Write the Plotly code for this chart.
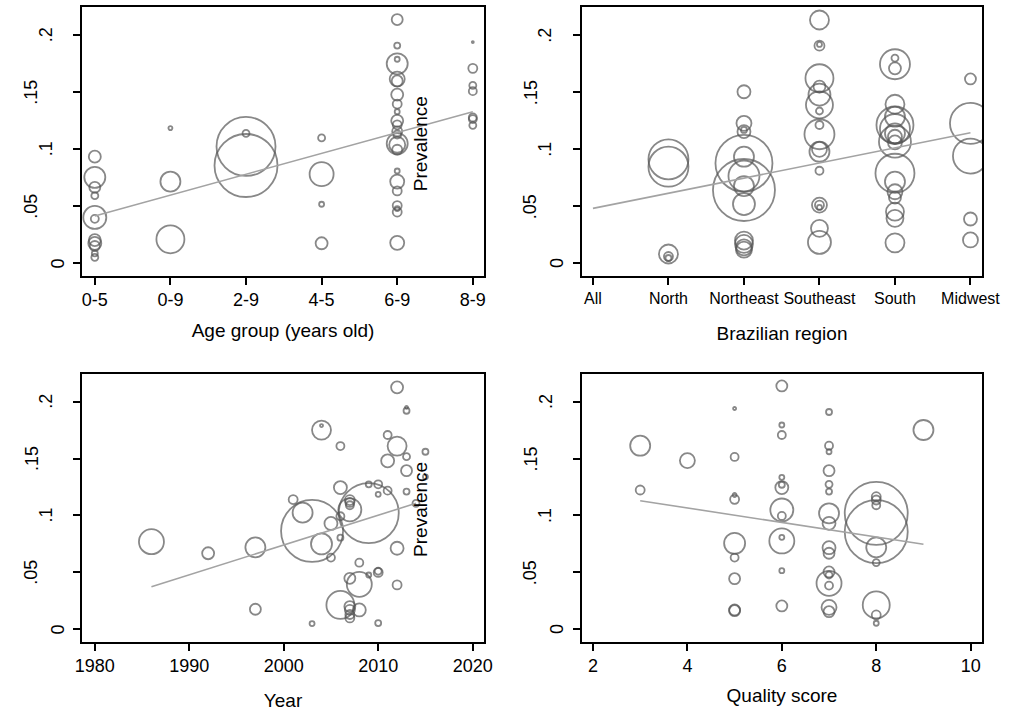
import plotly.graph_objects as go

# ---------------- DATA ----------------
# Panel 1: Age group
age_labels = ["0-5", "0-9", "2-9", "4-5", "6-9", "8-9"]
age_idx = [0]*11 + [1]*3 + [2]*3 + [3]*4 + [4]*23 + [5]*7
age_prev = [0.0935, 0.0754, 0.0667, 0.0593, 0.0403, 0.039, 0.0204, 0.0175, 0.0152, 0.0088, 0.0053,
            0.1186, 0.0717, 0.0211,
            0.114, 0.1025, 0.0858,
            0.110, 0.0782, 0.0518, 0.0176,
            0.2138, 0.191, 0.179, 0.175, 0.1616, 0.160, 0.148, 0.1397, 0.133, 0.125, 0.1215, 0.1157,
            0.113, 0.105, 0.104, 0.0996, 0.081, 0.0717, 0.0635, 0.0507, 0.048, 0.045, 0.018,
            0.194, 0.171, 0.156, 0.151, 0.128, 0.1265, 0.121]
age_weight = [12, 21, 11, 7, 23, 8, 12, 13, 10, 6, 7,
              4, 20, 28,
              7, 59, 63,
              7, 24, 5, 12,
              11, 6, 5, 21, 15, 11, 12, 9, 5, 12, 9, 10,
              8, 21, 16, 10, 5, 14, 9, 9, 5, 9, 14,
              2, 9, 7, 8, 8, 8, 7]
age_fit_x = [0, 5]
age_fit_y = [0.0416, 0.133]

# Panel 2: Brazilian region
region_labels = ["All", "North", "Northeast", "Southeast", "South", "Midwest"]
region_idx = [1]*5 + [2]*14 + [3]*18 + [4]*18 + [5]*5
region_prev = [0.0912, 0.0848, 0.0082, 0.006, 0.0047,
               0.1505, 0.1228, 0.1155, 0.117, 0.0935, 0.0877, 0.0766, 0.0678, 0.0643, 0.052,
               0.020, 0.017, 0.014, 0.012,
               0.2134, 0.1909, 0.192, 0.1623, 0.155, 0.148, 0.139, 0.1336, 0.1213, 0.1132,
               0.100, 0.0979, 0.0812, 0.0511, 0.051, 0.049, 0.0307, 0.0184,
               0.1746, 0.180, 0.171, 0.1395, 0.1286, 0.1213, 0.1178, 0.114, 0.111, 0.1067,
               0.106, 0.079, 0.0716, 0.0628, 0.0576, 0.0453, 0.0395, 0.018,
               0.1617, 0.1228, 0.0941, 0.0389, 0.0205]
region_weight = [40, 40, 19, 9, 6,
                 13, 15, 13, 6, 20, 57, 31, 20, 62, 22, 18, 18, 16, 16,
                 19, 10, 5, 28, 12, 22, 27, 7, 8, 30, 15, 20, 8, 15, 9, 5, 17, 23,
                 30, 7, 12, 19, 20, 37, 30, 20, 14, 32, 14, 39, 20, 15, 12, 18, 17, 19,
                 11, 41, 35, 13, 15]
region_fit_x = [0, 5]
region_fit_y = [0.0482, 0.1146]

# Panel 3: Year
year = [2012, 2013, 2013, 2004, 2004, 2006, 2011, 2012, 2011, 2013, 2013, 2015, 2013, 2015, 2014,
        2006, 2009, 2010, 2010, 2011, 2009, 2007, 2007, 2007, 2007, 2001, 2002, 2003, 2005, 2006,
        2004, 2006, 2005, 2012, 2008, 2010, 2010, 2009, 2007, 2008, 2012, 2006, 2008, 2007, 2007,
        2007, 2007, 2003, 2010, 1986, 1992, 1997, 1997]
year_prev = [0.2126, 0.192, 0.195, 0.175, 0.179, 0.161, 0.1707, 0.161, 0.148, 0.1517, 0.1394,
             0.156, 0.121, 0.134, 0.1107,
             0.1245, 0.1274, 0.1274, 0.1186, 0.1218, 0.102, 0.1135, 0.1115, 0.109, 0.105, 0.114,
             0.1025, 0.0864, 0.093, 0.0993,
             0.075, 0.0805, 0.063, 0.0712, 0.0585, 0.050, 0.051, 0.0477, 0.0448, 0.0395, 0.039,
             0.0214, 0.017, 0.020, 0.017, 0.013, 0.010, 0.005, 0.0055,
             0.077, 0.0668, 0.072, 0.0176]
year_weight = [12, 6, 3, 19, 3, 8, 8, 19, 13, 7, 11, 6, 6, 5, 7,
               13, 6, 8, 5, 8, 60, 10, 9, 8, 23, 9, 20, 62, 13, 8,
               21, 6, 8, 13, 8, 9, 7, 5, 11, 25, 9,
               28, 13, 11, 10, 9, 9, 5, 6,
               25, 12, 20, 11]
year_fit_x = [1986, 2014]
year_fit_y = [0.0374, 0.1107]

# Panel 4: Quality score
quality = [3, 3, 4,
           5, 5, 5, 5, 5, 5, 5, 5, 5,
           6, 6, 6, 6, 6, 6, 6, 6, 6, 6, 6, 6,
           7, 7, 7, 7, 7, 7, 7, 7, 7, 7, 7, 7, 7, 7, 7, 7,
           8, 8, 8, 8, 8, 8, 8, 8, 8, 8,
           9]
quality_prev = [0.1613, 0.1224, 0.1482,
                0.194, 0.1514, 0.118, 0.1142, 0.0755, 0.063, 0.0445, 0.017, 0.0164,
                0.2138, 0.1795, 0.1707, 0.1335, 0.1245, 0.127, 0.1048, 0.0996, 0.0776, 0.0808,
                0.0515, 0.0205,
                0.1909, 0.1613, 0.156, 0.1394, 0.1274, 0.121, 0.1019, 0.0931, 0.0717, 0.0668,
                0.0504, 0.0477, 0.0404, 0.0384, 0.0193, 0.0155,
                0.1165, 0.1136, 0.109, 0.1019, 0.0858, 0.072, 0.0586, 0.0214, 0.0126, 0.0053,
                0.1751]
quality_weight = [20, 9, 15,
                  3, 8, 4, 9, 21, 8, 11, 11, 11,
                  11, 5, 8, 5, 13, 6, 23, 8, 25, 5, 5, 11,
                  6, 8, 5, 11, 7, 6, 20, 13, 13, 11, 11, 7, 25, 8, 15, 11,
                  9, 9, 8, 63, 63, 20, 7, 27, 9, 5,
                  20]
quality_fit_x = [3, 9]
quality_fit_y = [0.113, 0.0747]

y_tickvals = [0, 0.05, 0.1, 0.15, 0.2]
y_ticktext = ["0", ".05", ".1", ".15", ".2"]

# ---------------- FIGURE ----------------
W, H = 1019, 715
BUBBLE = "#555555"
FIT = "#a3a3a3"
FONT = "Liberation Sans, Arial, sans-serif"
SIZE_SCALE = 1.0

AX_LEFT_L, AX_RIGHT_L = 77, 489
AX_LEFT_R, AX_RIGHT_R = 589, 1000
TOP_T, TOP_B = 7, 276
BOT_T, BOT_B = 374, 641.7


def px_x(a, b):
    return [a / W, b / W]


def px_y(top, bottom):
    return [1 - bottom / H, 1 - top / H]


fig = go.Figure()

panels = [
    ("x", "y", age_idx, age_prev, age_weight, age_fit_x, age_fit_y),
    ("x2", "y2", region_idx, region_prev, region_weight, region_fit_x, region_fit_y),
    ("x3", "y3", year, year_prev, year_weight, year_fit_x, year_fit_y),
    ("x4", "y4", quality, quality_prev, quality_weight, quality_fit_x, quality_fit_y),
]
for xa, ya, xs, ys, ws, fx, fy in panels:
    fig.add_trace(go.Scatter(
        x=xs, y=ys, mode="markers", xaxis=xa, yaxis=ya, showlegend=False,
        marker=dict(symbol="circle-open", size=[w * SIZE_SCALE for w in ws],
                    color=BUBBLE, line=dict(width=1.8, color=BUBBLE)),
        hoverinfo="skip"))
    fig.add_trace(go.Scatter(
        x=fx, y=fy, mode="lines", xaxis=xa, yaxis=ya, showlegend=False,
        line=dict(color=FIT, width=1.6), hoverinfo="skip"))

common_axis = dict(showline=True, mirror=True, linecolor="black", linewidth=1.6,
                   ticks="outside", ticklen=7, tickwidth=1.5, tickcolor="black",
                   showgrid=False, zeroline=False,
                   tickfont=dict(family=FONT, size=18, color="black"),
                   title_font=dict(family=FONT, size=19, color="black"))

yax = dict(common_axis, range=[-0.0111, 0.2248], tickvals=y_tickvals, showticklabels=False)
yax_b = dict(common_axis, range=[-0.0109, 0.2243], tickvals=y_tickvals, showticklabels=False)

top_dom = px_y(TOP_T, TOP_B)
bot_dom = px_y(BOT_T, BOT_B)
left_dom = px_x(AX_LEFT_L, AX_RIGHT_L)
right_dom = px_x(AX_LEFT_R, AX_RIGHT_R)

fig.update_layout(
    width=W, height=H, margin=dict(l=0, r=0, t=0, b=0),
    paper_bgcolor="white", plot_bgcolor="white",
    font=dict(family=FONT, color="black"),
    xaxis=dict(common_axis, domain=left_dom, anchor="y", range=[-0.168, 5.148],
               tickvals=list(range(len(age_labels))), ticktext=age_labels,
               title=dict(text="Age group (years old)", standoff=14)),
    yaxis=dict(yax, domain=top_dom, anchor="x"),
    xaxis2=dict(common_axis, domain=right_dom, anchor="y2", range=[-0.151, 5.159],
                tickvals=list(range(len(region_labels))), ticktext=region_labels,
                tickfont=dict(family=FONT, size=16, color="black"),
                title=dict(text="Brazilian region", standoff=21)),
    yaxis2=dict(yax, domain=top_dom, anchor="x2"),
    xaxis3=dict(common_axis, domain=left_dom, anchor="y3", range=[1978.66, 2021.2],
                tickvals=[1980, 1990, 2000, 2010, 2020],
                title=dict(text="Year", standoff=19)),
    yaxis3=dict(yax_b, domain=bot_dom, anchor="x3"),
    xaxis4=dict(common_axis, domain=right_dom, anchor="y4", range=[1.758, 10.25],
                tickvals=[2, 4, 6, 8, 10],
                title=dict(text="Quality score", standoff=14)),
    yaxis4=dict(yax_b, domain=bot_dom, anchor="x4"),
)

# vertical y tick labels (offset from the axis grows with label length, as in the original)
label_offset = {1: 24.5, 2: 37, 3: 52}
for yref, axis_px in [("y", AX_LEFT_L), ("y2", AX_LEFT_R), ("y3", AX_LEFT_L), ("y4", AX_LEFT_R)]:
    for v, t in zip(y_tickvals, y_ticktext):
        fig.add_annotation(x=(axis_px - label_offset[len(t)]) / W, xref="paper",
                           y=v, yref=yref, text=t, textangle=-90, showarrow=False,
                           xanchor="center", yanchor="middle",
                           font=dict(family=FONT, size=18, color="black"))

fig.add_annotation(x=4.31, y=0.105, xref="x", yref="y", text="Prevalence", textangle=-90,
                   showarrow=False, font=dict(family=FONT, size=19, color="black"))
fig.add_annotation(x=2014.5, y=0.1055, xref="x3", yref="y3", text="Prevalence", textangle=-90,
                   showarrow=False, font=dict(family=FONT, size=19, color="black"))

fig.write_html("out.html")
